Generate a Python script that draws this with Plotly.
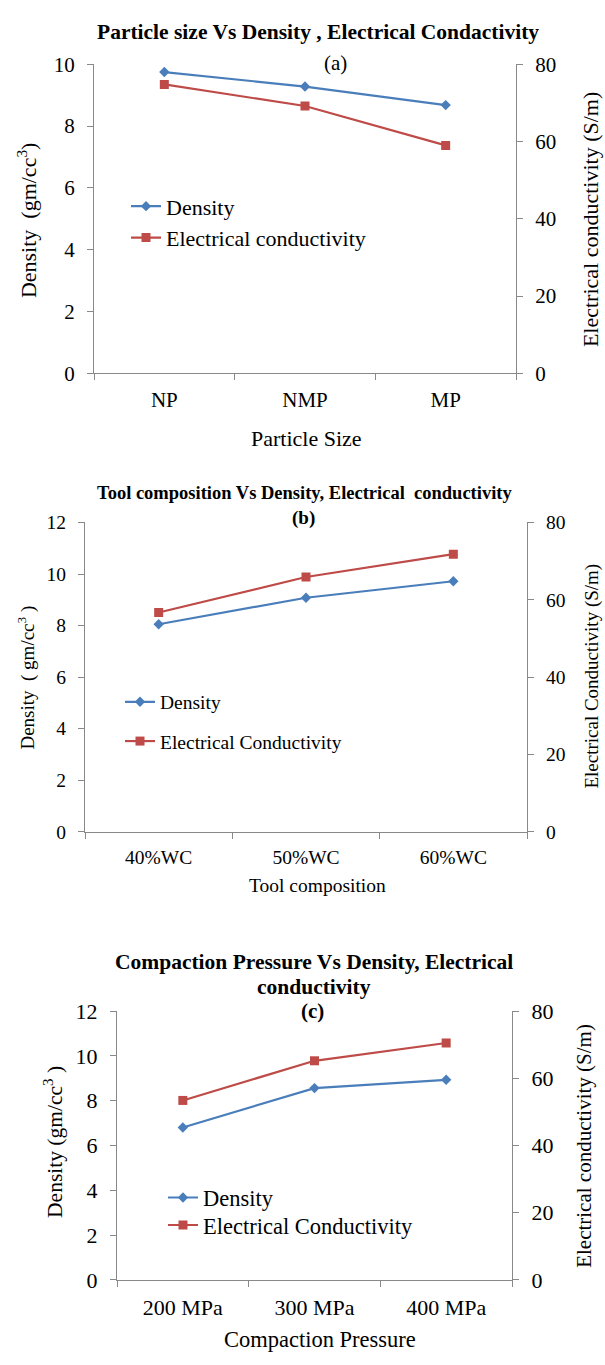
import plotly.graph_objects as go

W, H = 605, 1365

# ---------------- data ----------------
categories_a = ["NP", "NMP", "MP"]
density_a = [9.75, 9.28, 8.68]
conductivity_a = [74.8, 69.2, 59.0]

categories_b = ["40%WC", "50%WC", "60%WC"]
density_b = [8.05, 9.08, 9.72]
conductivity_b = [56.7, 65.9, 71.8]

categories_c = ["200 MPa", "300 MPa", "400 MPa"]
density_c = [6.80, 8.56, 8.93]
conductivity_c = [53.4, 65.2, 70.5]

BLUE = "#4A7EBB"
RED = "#BE4B48"
AXIS = "#898989"
FONT = "'Liberation Serif', 'Times New Roman', Tinos, serif"


def px_x(p):
    return p / W


def px_y(p):
    return 1 - p / H


fig = go.Figure()

panels = [
    dict(cats=categories_a, dens=density_a, cond=conductivity_a,
         names=("Density", "Electrical conductivity"),
         xd=(94, 516), yd=(368, 53.3), yl=(0, 10), fs=21, lfs=22,
         xa="x", ya="y", ya2="y2", lg=("legend", "legend2"),
         leg=(126, 198, 230)),
    dict(cats=categories_b, dens=density_b, cond=conductivity_b,
         names=("Density", "Electrical Conductivity"),
         xd=(85, 527), yd=(835, 520), yl=(0, 12), fs=19.5, lfs=19.5,
         xa="x2", ya="y3", ya2="y4", lg=("legend3", "legend4"),
         leg=(120, 703, 743)),
    dict(cats=categories_c, dens=density_c, cond=conductivity_c,
         names=("Density", "Electrical Conductivity"),
         xd=(117, 512), yd=(1291.5, 1017.7), yl=(0, 12), fs=22, lfs=22.5,
         xa="x3", ya="y5", ya2="y6", lg=("legend5", "legend6"),
         leg=(163, 1208, 1236)),
]

layout = dict(
    width=W, height=H, margin=dict(l=0, r=0, t=0, b=0),
    paper_bgcolor="white", plot_bgcolor="white",
    font=dict(family=FONT, color="black"),
    showlegend=True,
)

for i, p in enumerate(panels):
    fig.add_trace(go.Scatter(
        x=p["cats"], y=p["dens"], name=p["names"][0], mode="lines+markers",
        line=dict(color=BLUE, width=2.2),
        marker=dict(symbol="diamond", size=8, color=BLUE),
        xaxis=p["xa"], yaxis=p["ya"], legend=p["lg"][0]))
    fig.add_trace(go.Scatter(
        x=p["cats"], y=p["cond"], name=p["names"][1], mode="lines+markers",
        line=dict(color=RED, width=2.2),
        marker=dict(symbol="square", size=9, color=RED),
        xaxis=p["xa"], yaxis=p["ya2"], legend=p["lg"][1]))

    xkey = "xaxis" if p["xa"] == "x" else "xaxis" + p["xa"][1:]
    ykey = "yaxis" if p["ya"] == "y" else "yaxis" + p["ya"][1:]
    y2key = "yaxis" + p["ya2"][1:]
    xdom = [px_x(p["xd"][0]), px_x(p["xd"][1])]
    ydom = [px_y(p["yd"][0]), px_y(p["yd"][1])]

    layout[xkey] = dict(
        domain=xdom, anchor=p["ya"], type="category", range=[-0.5, 2.5],
        showline=True, linecolor=AXIS, linewidth=1, showgrid=False,
        zeroline=False, ticks="outside", tickson="boundaries", ticklen=6,
        tickcolor=AXIS, tickfont=dict(family=FONT, size=p["fs"], color="black"),
        ticklabelstandoff=8, fixedrange=True)
    layout[ykey] = dict(
        domain=ydom, anchor=p["xa"], range=list(p["yl"]), dtick=2,
        showline=True, linecolor=AXIS, linewidth=1, showgrid=False,
        zeroline=False, ticks="outside", ticklen=6, tickcolor=AXIS,
        tickfont=dict(family=FONT, size=p["fs"], color="black"),
        ticklabelstandoff=8)
    layout[y2key] = dict(
        domain=ydom, anchor=p["xa"], overlaying=p["ya"], side="right",
        range=[0, 80], dtick=20,
        showline=True, linecolor=AXIS, linewidth=1, showgrid=False,
        zeroline=False, ticks="outside", ticklen=6, tickcolor=AXIS,
        tickfont=dict(family=FONT, size=p["fs"], color="black"),
        ticklabelstandoff=8)

    lx, ly1, ly2 = p["leg"]
    for lg, ly in zip(p["lg"], (ly1, ly2)):
        layout[lg] = dict(
            x=px_x(lx), y=px_y(ly), xanchor="left", yanchor="middle",
            bgcolor="rgba(0,0,0,0)", borderwidth=0,
            font=dict(family=FONT, size=p["lfs"], color="black"))

fig.update_layout(**layout)

annotations = []


def ann(text, x, y, size, angle=0, bold=False):
    annotations.append(dict(
        text=("<b>%s</b>" % text) if bold else text,
        x=px_x(x), y=px_y(y), xref="paper", yref="paper",
        xanchor="center", yanchor="middle", showarrow=False,
        textangle=angle, font=dict(family=FONT, size=size, color="black")))


# panel (a)
ann("Particle size Vs Density , Electrical Condactivity", 318, 20, 21.5, bold=True)
ann("(a)", 335, 52, 21)
ann("Density  (gm/cc<sup>3</sup>)", 27, 212, 22, angle=-90)
ann("Electrical conductivity (S/m)", 590, 212, 22, angle=-90)
ann("Particle Size", 306, 434, 22)

# panel (b)
ann("Tool composition Vs Density, Electrical  conductivity", 304, 490, 18.5, bold=True)
ann("(b)", 303, 515, 19, bold=True)
ann("Density  ( gm/cc<sup>3</sup> )", 27, 678, 19, angle=-90)
ann("Electrical Conductivity (S/m)", 592, 677, 19, angle=-90)
ann("Tool composition", 317, 890, 19.5)

# panel (c)
ann("Compaction Pressure Vs Density, Electrical", 314, 968, 21.5, bold=True)
ann("conductivity", 314, 993, 21.5, bold=True)
ann("(c)", 312, 1018, 21, bold=True)
ann("Density (gm/cc<sup>3</sup> )", 54, 1151, 21.5, angle=-90)
ann("Electrical conductivity (S/m)", 584, 1155, 21, angle=-90)
ann("Compaction Pressure", 320, 1352, 22.5)

fig.update_layout(annotations=annotations)

fig.write_html("out.html")
